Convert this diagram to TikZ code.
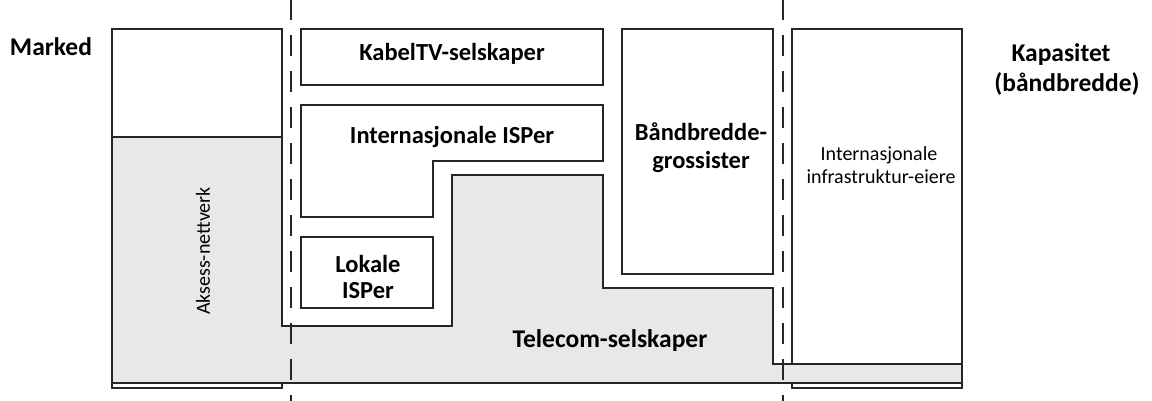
\documentclass[tikz,border=0pt]{standalone}
\usepackage{fontspec}
\setmainfont{Carlito}
\definecolor{telgray}{RGB}{232,232,232}
\definecolor{ink}{RGB}{38,38,38}
\begin{document}
\begin{tikzpicture}[x=1pt,y=-1pt,
  frame/.style={draw=ink, line width=1.3pt, line join=miter},
  band/.style={frame, fill=telgray},
  divider/.style={draw=ink, line width=1.3pt, dash pattern=on 21pt off 15pt, dash phase=1pt},
  lbl/.style={font=\fontsize{24.5}{27}\selectfont\bfseries, inner sep=0pt, anchor=base},
  outer/.style={font=\fontsize{25.5}{29}\selectfont\bfseries, inner sep=0pt, anchor=base},
  plain/.style={font=\fontsize{20}{22}\selectfont, inner sep=0pt, anchor=base}]
\useasboundingbox (0,0) rectangle (1152,401);

% access network column and the infrastructure owners column
\draw[frame, fill=white] (112,29) rectangle (282,388);
\draw[frame, fill=white] (792,29) rectangle (962,388);

% telecom operators: one stepped grey region
\draw[band] (112,137) -- (282,137) -- (282,326) -- (452,326) -- (452,175)
  -- (603,175) -- (603,288) -- (773,288) -- (773,364) -- (962,364)
  -- (962,383) -- (112,383) -- cycle;

% service providers
\draw[frame, fill=white] (301,29) rectangle (603,85);
\draw[frame, fill=white] (301,105) -- (603,105) -- (603,161) -- (433,161)
  -- (433,217) -- (301,217) -- cycle;
\draw[frame, fill=white] (301,237) rectangle (433,308);
\draw[frame, fill=white] (622,29) rectangle (773,274);

% column separators
\draw[divider] (291,0) -- (291,401);
\draw[divider] (783,0) -- (783,401);

% labels
\node[outer] (marked) at (51,56) {Marked};
\node[outer] (kap1) at (1061,62) {Kapasitet};
\node[outer] (kap2) at (1067,92) {(båndbredde)};
\node[lbl] (kabel) at (452,61) {KabelTV-selskaper};
\node[lbl] (intisp) at (452,144) {Internasjonale ISPer};
\node[lbl] (lok1) at (368,272) {Lokale};
\node[lbl] (lok2) at (368,298) {ISPer};
\node[lbl] (bb1) at (701,141) {Båndbredde-};
\node[lbl] (bb2) at (701,168) {grossister};
\node[plain] (inf1) at (879,161) {Internasjonale};
\node[plain] (inf2) at (881,184) {infrastruktur-eiere};
\node[outer] (tele) at (610,347) {Telecom-selskaper};
\node[font=\fontsize{20}{22}\selectfont, inner sep=0pt, rotate=90] (aksess) at (203,251) {Aksess-nettverk};
\end{tikzpicture}
\end{document}
